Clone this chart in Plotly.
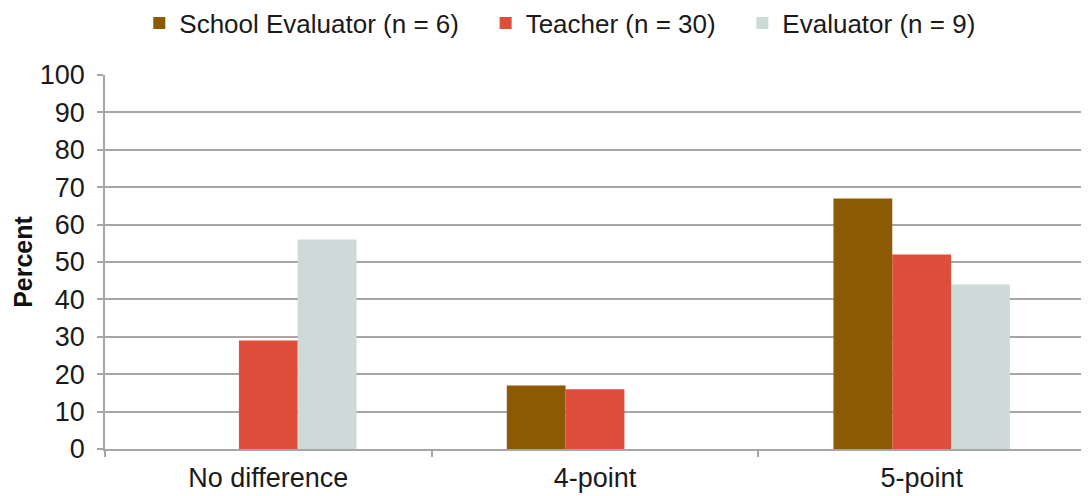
import plotly.graph_objects as go

categories = ["No difference", "4-point", "5-point"]
series_names = ["School Evaluator (n = 6)", "Teacher (n = 30)", "Evaluator (n = 9)"]
school_evaluator = [None, 17, 67]
teacher = [29, 16, 52]
evaluator = [56, None, 44]
y_ticks = [0, 10, 20, 30, 40, 50, 60, 70, 80, 90, 100]

colors = ["#8C5A02", "#DE4E3B", "#CDDAD7"]
values = [school_evaluator, teacher, evaluator]

font_family = "Liberation Sans, Arial, sans-serif"
pad = "\u00a0\u00a0\u00a0"

fig = go.Figure()
for name, vals, c in zip(series_names, values, colors):
    fig.add_trace(go.Bar(x=categories, y=vals, name=name + pad,
                         marker=dict(color=c, line=dict(width=0))))

fig.update_layout(
    width=1081, height=488,
    margin=dict(l=97, r=4, t=67, b=47, autoexpand=False),
    barmode="group", bargap=0.46, bargroupgap=0,
    plot_bgcolor="white", paper_bgcolor="white",
    font=dict(family=font_family, size=26, color="#1a1a1a"),
    legend=dict(orientation="h", x=0.035, xanchor="left", y=1.139, yanchor="middle",
                font=dict(size=26, color="#1a1a1a"), itemwidth=30, traceorder="normal",
                itemsizing="constant", tracegroupgap=0, bgcolor="rgba(0,0,0,0)"),
    xaxis=dict(showline=True, linecolor="#A6A6A6", linewidth=1.5, ticks="outside", tickson="boundaries",
               ticklen=6, tickcolor="#A6A6A6", tickwidth=1.5, showgrid=False,
               tickfont=dict(size=27, color="#1a1a1a"), ticklabelstandoff=4, mirror=False),
    yaxis=dict(range=[0, 100], tickvals=y_ticks, showgrid=True, gridcolor="#A6A6A6", gridwidth=1.5,
               showline=True, linecolor="#A6A6A6", linewidth=1.5, ticks="outside", ticklen=6,
               tickcolor="#A6A6A6", tickwidth=1.5, zeroline=False, ticklabelstandoff=7,
               tickfont=dict(size=27, color="#1a1a1a"),
               title=dict(text="<b>Percent</b>", font=dict(size=25, color="#111"), standoff=0)),
)
fig.write_html("out.html")
